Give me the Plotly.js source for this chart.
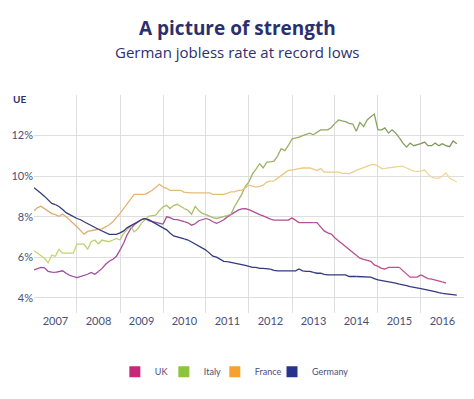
<!DOCTYPE html>
<html>
<head>
<meta charset="utf-8">
<script src="https://cdn.plot.ly/plotly-3.0.1.min.js"></script>
<style>html,body{margin:0;padding:0;background:#fff;}#chart{width:474px;height:399px;}</style>
</head>
<body>
<div id="chart"></div>
<script>
// Monthly unemployment rates (%), starting January 2007
var startYear = 2007;
var uk = [
  5.37,5.45,5.5,5.48,5.3,5.27,5.25,5.3,5.33,5.21,5.1,5.05,
  5.0,5.05,5.1,5.16,5.25,5.16,5.3,5.45,5.65,5.8,5.9,6.05,
  6.36,6.7,7.1,7.4,7.6,7.75,7.85,7.91,7.8,7.75,7.7,7.65,
  7.63,7.99,7.95,7.87,7.85,7.8,7.75,7.7,7.58,7.65,7.8,7.85,
  7.91,7.85,7.75,7.67,7.75,7.85,7.99,8.1,8.25,8.32,8.38,8.4,
  8.35,8.25,8.16,8.1,8.04,7.95,7.88,7.83,7.83,7.83,7.83,7.83,
  7.94,7.8,7.71,7.71,7.71,7.71,7.71,7.71,7.5,7.3,7.2,7.14,
  6.95,6.8,6.7,6.55,6.4,6.25,6.1,5.95,5.9,5.86,5.8,5.62,
  5.55,5.45,5.42,5.5,5.5,5.5,5.5,5.35,5.2,5.02,5.02,5.02,
  5.13,5.05,4.95,4.92,4.88,4.85,4.78,4.72
];
var italy = [
  6.32,6.2,6.11,5.95,5.73,6.11,6.04,6.39,6.2,6.2,6.2,6.2,
  6.65,6.65,6.65,6.39,6.77,6.85,6.65,6.85,6.8,6.77,6.85,6.93,
  6.85,7.18,7.35,7.53,7.25,7.4,7.67,7.85,8.02,8.05,8.07,8.3,
  8.48,8.56,8.4,8.55,8.61,8.5,8.4,8.32,8.12,8.51,8.3,8.16,
  8.1,8.02,7.95,7.91,7.95,7.99,8.05,8.12,8.5,8.8,9.1,9.5,
  9.71,10.12,10.35,10.61,10.41,10.69,10.7,10.74,11.0,11.35,11.26,11.51,
  11.84,11.88,11.92,12.0,12.05,12.12,12.04,12.15,12.28,12.28,12.28,12.4,
  12.6,12.77,12.72,12.69,12.6,12.57,12.21,12.65,12.44,12.77,12.93,13.06,
  12.28,12.28,12.38,12.12,12.28,12.12,11.9,11.63,11.43,11.63,11.5,11.55,
  11.6,11.68,11.5,11.5,11.63,11.5,11.6,11.5,11.45,11.73,11.6
];
var france = [
  8.29,8.45,8.52,8.4,8.3,8.15,8.1,8.02,8.12,8.0,7.83,7.65,
  7.5,7.3,7.14,7.27,7.3,7.34,7.38,7.4,7.5,7.6,7.75,7.95,
  8.16,8.4,8.65,8.85,9.1,9.1,9.1,9.1,9.2,9.3,9.45,9.6,
  9.46,9.4,9.3,9.3,9.3,9.3,9.2,9.17,9.17,9.17,9.17,9.17,
  9.17,9.17,9.1,9.1,9.1,9.1,9.15,9.22,9.22,9.3,9.3,9.43,
  9.55,9.5,9.46,9.5,9.55,9.71,9.75,9.76,9.9,10.04,10.15,10.28,
  10.3,10.35,10.37,10.4,10.41,10.41,10.35,10.28,10.37,10.2,10.2,10.2,
  10.2,10.2,10.15,10.15,10.12,10.2,10.28,10.35,10.45,10.5,10.55,10.58,
  10.5,10.37,10.38,10.4,10.41,10.45,10.48,10.48,10.4,10.31,10.25,10.23,
  10.25,10.31,10.1,9.95,9.9,9.9,10.0,10.15,9.9,9.8,9.71
];
var germany = [
  9.43,9.3,9.15,9.0,8.8,8.65,8.6,8.5,8.35,8.2,8.1,8.0,
  7.91,7.85,7.75,7.65,7.55,7.45,7.38,7.3,7.2,7.13,7.13,7.13,
  7.2,7.3,7.45,7.55,7.65,7.75,7.85,7.9,7.85,7.75,7.65,7.55,
  7.45,7.35,7.2,7.05,7.0,6.95,6.9,6.85,6.75,6.65,6.55,6.45,
  6.35,6.2,6.05,6.0,5.9,5.8,5.78,5.75,5.7,5.68,5.65,5.6,
  5.55,5.5,5.5,5.45,5.45,5.42,5.41,5.35,5.33,5.33,5.33,5.33,
  5.33,5.33,5.42,5.33,5.3,5.3,5.25,5.21,5.21,5.15,5.13,5.13,
  5.13,5.13,5.13,5.13,5.05,5.05,5.05,5.05,5.02,5.02,5.02,4.95,
  4.88,4.85,4.82,4.8,4.78,4.72,4.67,4.65,4.6,4.55,4.51,4.48,
  4.45,4.42,4.39,4.35,4.3,4.25,4.22,4.2,4.2,4.18,4.13
];
var seriesNames = ['UK','Italy','France','Germany'];
// line colours fade from the first to the second colour over time
var lineColorStart = ['#9a4c9e','#c9d673','#e0a968','#353a7e'];
var lineColorEnd   = ['#c2508c','#78955c','#f1dc98','#353a7e'];
var legendColors = ['#c8287a','#8cc43c','#f7a22e','#27348b'];
var yTicks = [4,6,8,10,12];
var yTickText = ['4%','6%','8%','10%','12%'];

function monthDates(n){
  var out=[];
  for(var i=0;i<n;i++){
    var y=startYear+Math.floor(i/12), m=(i%12)+1;
    out.push(y+'-'+(m<10?'0':'')+m+'-01');
  }
  return out;
}
function hexToRgb(h){return [parseInt(h.substr(1,2),16),parseInt(h.substr(3,2),16),parseInt(h.substr(5,2),16)];}
function mix(a,b,t){var A=hexToRgb(a),B=hexToRgb(b);
  return 'rgb('+A.map(function(v,i){return Math.round(v+(B[i]-v)*t);}).join(',')+')';}

var allSeries=[uk,italy,france,germany];
var traces=[];
allSeries.forEach(function(s,i){
  var dates=monthDates(s.length);
  var chunk=6, nChunks=Math.ceil((s.length-1)/chunk);
  for(var k=0;k<nChunks;k++){
    var a=k*chunk, b=Math.min(s.length, a+chunk+1);
    traces.push({x:dates.slice(a,b),y:s.slice(a,b),type:'scatter',mode:'lines',
      line:{color:mix(lineColorStart[i],lineColorEnd[i],nChunks>1?k/(nChunks-1):0),width:1.3},
      showlegend:false,hoverinfo:'skip'});
  }
});
var legendIds=['legend','legend2','legend3','legend4'];
seriesNames.forEach(function(n,i){
  traces.push({x:[null],y:[null],type:'scatter',mode:'markers',name:n,legend:legendIds[i],
    marker:{symbol:'square',size:11,color:legendColors[i]},showlegend:true});
});

var font='Lato, "Open Sans", sans-serif';
var titleFont='"Open Sans", Lato, sans-serif';
var navy='#2b2f6e';
var legendX=[0.188,0.302,0.4205,0.5535];
function legendCfg(x){return {orientation:'h',x:x,xanchor:'left',y:-0.27,yanchor:'middle',
  font:{family:font,size:9,color:'#4a4e78'},itemclick:false,bgcolor:'rgba(0,0,0,0)'};}
var layout={
  width:474,height:399,
  margin:{l:34,r:10,t:95,b:86},
  paper_bgcolor:'#fff',plot_bgcolor:'#fff',
  font:{family:font,color:'#4a4e78',size:11},
  showlegend:true,
  legend:legendCfg(legendX[0]),
  legend2:legendCfg(legendX[1]),
  legend3:legendCfg(legendX[2]),
  legend4:legendCfg(legendX[3]),
  xaxis:{type:'date',range:['2007-01-01','2017-01-01'],dtick:'M12',tick0:'2007-01-01',
    ticklabelmode:'period',tickformat:'%Y',showgrid:true,gridcolor:'#dedede',gridwidth:1,
    zeroline:false,showline:false,ticks:'',tickfont:{size:11,color:'#4a4e78'}},
  yaxis:{range:[3.25,14],tickvals:yTicks,ticktext:yTickText,showgrid:true,
    gridcolor:'#dedede',gridwidth:1,zeroline:false,showline:false,ticks:'',
    tickfont:{size:11,color:'#4a4e78'}},
  annotations:[
    {text:'<b>A picture of strength</b>',xref:'paper',yref:'paper',x:0.4744,y:1,
     xanchor:'center',yanchor:'middle',yshift:67,showarrow:false,
     font:{family:titleFont,size:19,color:navy}},
    {text:'German jobless rate at record lows',xref:'paper',yref:'paper',x:0.4721,y:1,
     xanchor:'center',yanchor:'middle',yshift:43,showarrow:false,
     font:{family:titleFont,size:15,color:navy}},
    {text:'<b>UE</b>',xref:'paper',yref:'paper',x:0,y:1,xanchor:'right',yanchor:'middle',
     xshift:-6,yshift:-4,showarrow:false,font:{family:font,size:10,color:navy}}
  ]
};
Plotly.newPlot('chart',traces,layout,{displayModeBar:false,staticPlot:true});
</script>
</body>
</html>
